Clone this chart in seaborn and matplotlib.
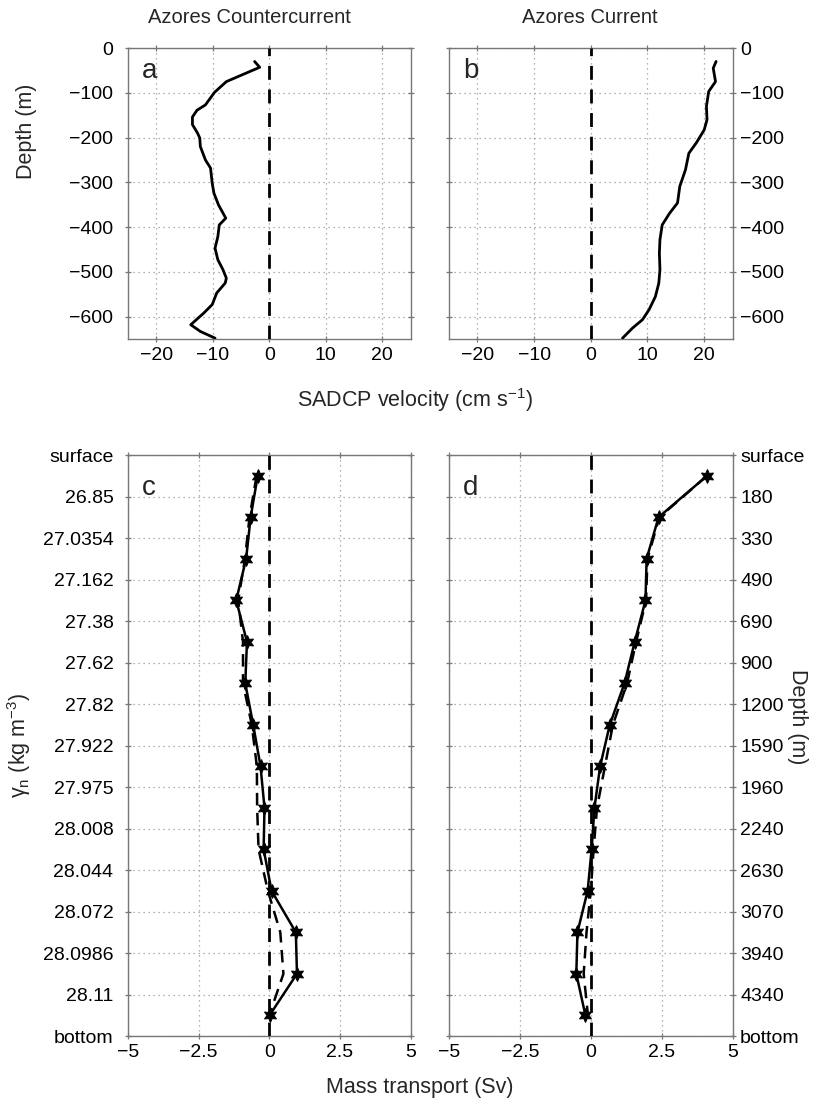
import numpy as np
import pandas as pd
import matplotlib
matplotlib.use("Agg")
import matplotlib.pyplot as plt
import seaborn as sns

# ---------------- data ----------------
# Panel a: Azores Countercurrent SADCP velocity profile
acc_depth = [-30, -43, -75, -99, -127, -139, -154, -171, -190, -201, -220, -250, -268,
             -302, -324, -350, -380, -395, -421, -447, -473, -495, -514, -525, -547,
             -573, -592, -618, -633, -648]
acc_vel = [-2.6, -1.7, -7.6, -9.7, -11.3, -12.8, -13.6, -13.6, -12.7, -12.3, -12.2, -11.3,
           -10.4, -10.1, -9.8, -9.0, -7.7, -8.85, -9.1, -9.6, -9.1, -8.2, -7.6, -7.8,
           -9.3, -10.1, -11.6, -13.9, -12.2, -9.6]

# Panel b: Azores Current SADCP velocity profile
ac_depth = [-30, -45, -75, -97, -130, -160, -183, -212, -235, -272, -309, -346, -369,
            -395, -428, -458, -495, -525, -555, -584, -607, -625, -648]
ac_vel = [22.1, 21.6, 22.0, 20.8, 20.4, 20.5, 20.0, 18.6, 17.3, 16.7, 15.7, 15.3, 13.9,
          12.6, 12.2, 12.1, 12.2, 12.0, 11.4, 10.3, 9.1, 7.4, 5.6]

# Layer boundaries for bottom panels
gamma_labels = ["surface", "26.85", "27.0354", "27.162", "27.38", "27.62", "27.82",
                "27.922", "27.975", "28.008", "28.044", "28.072", "28.0986", "28.11",
                "bottom"]
depth_labels = ["surface", "180", "330", "490", "690", "900", "1200", "1590", "1960",
                "2240", "2630", "3070", "3940", "4340", "bottom"]

# Panel c: Azores Countercurrent mass transport per layer (Sv)
acc_transport = [-0.41, -0.66, -0.82, -1.17, -0.79, -0.85, -0.57, -0.31, -0.17, -0.20,
                 0.08, 0.94, 0.98, 0.01]
acc_transport_dashed = [-0.45, -0.70, -0.86, -1.10, -0.93, -0.93, -0.62, -0.44, -0.43,
                        -0.38, -0.05, 0.39, 0.50, 0.00]

# Panel d: Azores Current mass transport per layer (Sv)
ac_transport = [4.10, 2.39, 1.97, 1.93, 1.55, 1.19, 0.67, 0.33, 0.13, 0.03, -0.11,
                -0.47, -0.51, -0.19]
ac_transport_dashed = [4.10, 2.42, 2.00, 1.95, 1.60, 1.28, 0.78, 0.50, 0.22, 0.10, 0.00,
                       -0.15, -0.25, -0.10]

top_titles = ["Azores Countercurrent", "Azores Current"]
panel_letters = ["a", "b", "c", "d"]

# ---------------- style ----------------
sns.set_style("white")
plt.rcParams["font.family"] = ["Liberation Sans", "DejaVu Sans"]
plt.rcParams["mathtext.fontset"] = "custom"
plt.rcParams["mathtext.rm"] = "Liberation Sans"
plt.rcParams["mathtext.it"] = "Liberation Sans:italic"

SPINE = "#777777"
GRID = "#999999"
FS_TICK = 14
FS_LAB = 15.5
FS_TITLE = 14.5

fig = plt.figure(figsize=(8.17, 11.12), dpi=100)
ax_a = fig.add_axes([0.1567, 0.6951, 0.3458, 0.2617])
ax_b = fig.add_axes([0.5496, 0.6951, 0.3470, 0.2617])
ax_c = fig.add_axes([0.1567, 0.0683, 0.3458, 0.5225])
ax_d = fig.add_axes([0.5496, 0.0683, 0.3470, 0.5225])


def style_axes(ax):
    for s in ax.spines.values():
        s.set_color(SPINE)
        s.set_linewidth(1.0)
    ax.grid(True, linestyle=(0, (1, 3)), color=GRID, linewidth=0.9)
    ax.tick_params(colors=SPINE, labelcolor="black", labelsize=FS_TICK, width=0.9,
                   length=5, direction="inout", top=True, bottom=True, left=True,
                   right=True, pad=3)


def zero_line(ax):
    ax.axvline(0, color="black", linestyle=(0, (5, 3.5)), linewidth=2.0, zorder=3)


# ---------------- top panels ----------------
for ax, vel, dep in [(ax_a, acc_vel, acc_depth), (ax_b, ac_vel, ac_depth)]:
    df = pd.DataFrame({"vel": vel, "depth": dep})
    sns.lineplot(data=df, x="vel", y="depth", sort=False, estimator=None,
                 color="black", linewidth=2.0, ax=ax, zorder=4)
    zero_line(ax)
    ax.set_xlim(-25, 25)
    ax.set_ylim(-650, 0)
    ax.set_xticks([-20, -10, 0, 10, 20])
    ax.set_yticks([0, -100, -200, -300, -400, -500, -600])
    style_axes(ax)
    ax.set_xlabel("")
    ax.set_ylabel("")

ax_a.tick_params(axis="y", labelleft=True, labelright=False, pad=8)
ax_b.tick_params(axis="y", labelleft=False, labelright=True, pad=3)
ax_a.set_ylabel("Depth (m)", fontsize=FS_LAB)
ax_a.yaxis.set_label_coords(-0.322, 0.715)

fig.text(0.305, 0.984, top_titles[0], ha="center", va="center", fontsize=FS_TITLE)
fig.text(0.722, 0.984, top_titles[1], ha="center", va="center", fontsize=FS_TITLE)

fig.text(0.508, 0.640, "SADCP velocity (cm s$^{-1}$)", ha="center", va="center",
         fontsize=FS_LAB)

# ---------------- bottom panels ----------------
layer_mid = np.arange(len(acc_transport)) + 0.5
star = (6, 1, 0)
for ax, sol, das in [(ax_c, acc_transport, acc_transport_dashed),
                     (ax_d, ac_transport, ac_transport_dashed)]:
    df = pd.DataFrame({"solid": sol, "dashed": das, "layer": layer_mid})
    sns.lineplot(data=df, x="dashed", y="layer", sort=False, estimator=None,
                 color="black", linewidth=1.8, linestyle=(0, (5, 3)), ax=ax,
                 zorder=4)
    sns.lineplot(data=df, x="solid", y="layer", sort=False, estimator=None,
                 color="black", linewidth=1.8, marker=star, markersize=10,
                 markeredgecolor="black", markerfacecolor="black", ax=ax, zorder=5)
    zero_line(ax)
    ax.set_xlim(-5, 5)
    ax.set_ylim(len(gamma_labels) - 1, 0)
    ax.set_xticks([-5, -2.5, 0, 2.5, 5])
    ax.set_xticklabels(["\u22125", "\u22122.5", "0", "2.5", "5"])
    ax.set_yticks(np.arange(len(gamma_labels)))
    style_axes(ax)
    ax.set_xlabel("")
    ax.set_ylabel("")

ax_c.set_yticklabels(gamma_labels)
ax_c.tick_params(axis="y", labelleft=True, labelright=False, pad=8)
ax_d.yaxis.set_ticks_position("both")
ax_d.set_yticklabels(depth_labels)
ax_d.tick_params(axis="y", labelleft=False, labelright=True, pad=3)

ax_c.set_ylabel("\u03b3$_\\mathrm{n}$ (kg m$^{-3}$)", fontsize=FS_LAB)
ax_c.yaxis.set_label_coords(-0.336, 0.5)
ax_d.yaxis.set_label_position("right")
ax_d.set_ylabel("Depth (m)", fontsize=FS_LAB, rotation=270, va="center")
ax_d.yaxis.set_label_coords(1.23, 0.55)

fig.text(0.514, 0.022, "Mass transport (Sv)", ha="center", va="center",
         fontsize=FS_LAB)

for ax, letter in zip([ax_a, ax_b, ax_c, ax_d], panel_letters):
    ax.text(0.05, 0.965, letter, transform=ax.transAxes, ha="left", va="top",
            fontsize=20)

fig.savefig("out.png", dpi=100)
